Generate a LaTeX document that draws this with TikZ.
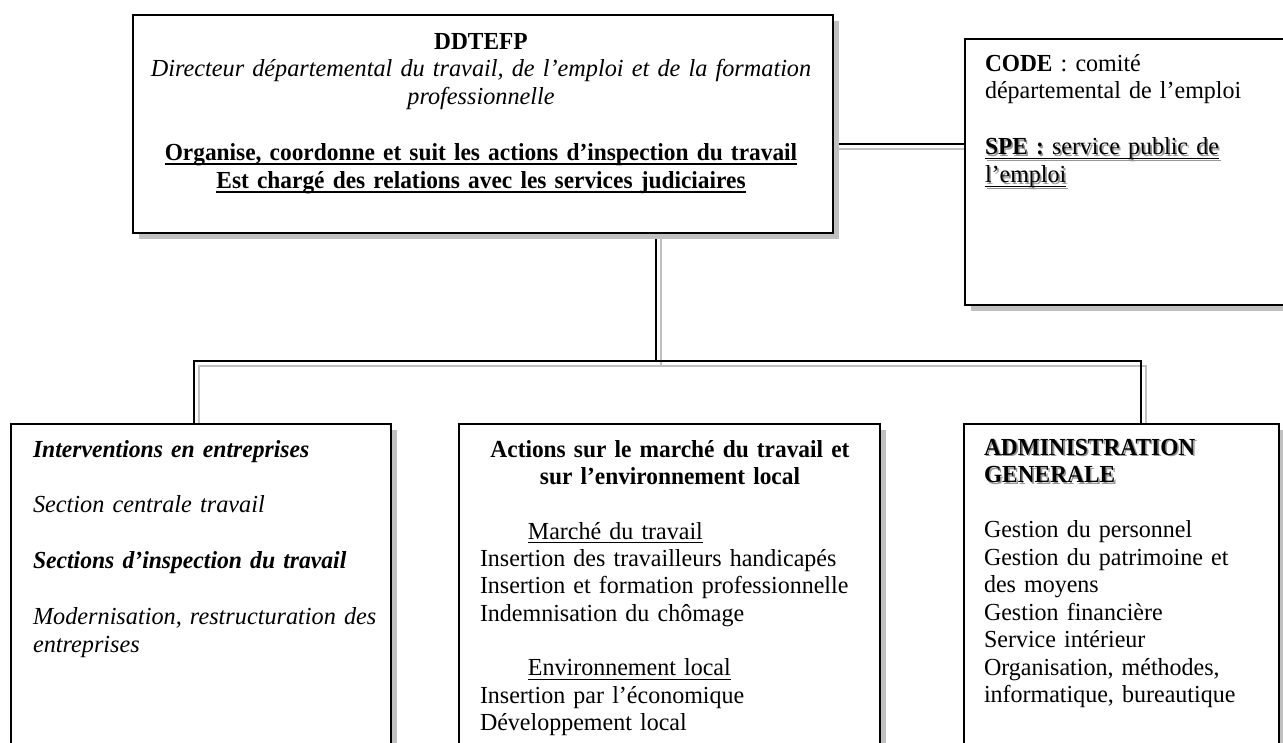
\documentclass[tikz,border=0pt]{standalone}
\usepackage{fontspec}
\setmainfont{Liberation Serif}[
  UprightFeatures={FakeStretch=0.98},
  ItalicFeatures={FakeStretch=0.99},
  BoldFeatures={FakeStretch=0.955},
  BoldItalicFeatures={FakeStretch=0.965}]
\usetikzlibrary{shadows,backgrounds}

\definecolor{shadowgray}{RGB}{192,192,192}
\definecolor{textshade}{RGB}{150,150,150}

% one drawing unit
\newcommand{\pxu}{0.49pt}
% underline with a chosen rule thickness
\newcommand{\uln}[2][0.5pt]{\leavevmode\setbox0=\hbox{#2}\rlap{\rule[-2pt]{\wd0}{#1}}\box0}
% thick underline for bold lines
\newcommand{\bul}[1]{\uln[0.95pt]{#1}}
% text with a soft grey offset copy behind it
\newcommand{\shd}[1]{\leavevmode\rlap{\kern0.8pt\raisebox{-0.8pt}{\color{textshade}#1}}#1}

\tikzset{
  box/.style={rectangle, draw=black, line width=0.9pt, fill=white, inner sep=0pt,
    drop shadow={shadow xshift=3.1pt, shadow yshift=-3.1pt, opacity=1, fill=shadowgray, draw=none}},
  link/.style={draw=black, line width=0.9pt},
  linkshade/.style={draw=shadowgray, line width=0.9pt,
    transform canvas={xshift=2.45pt, yshift=-2.45pt}},
  txt/.style={inner sep=0pt, outer sep=0pt, font=\fontsize{12}{13.7}\selectfont},
}

\begin{document}
\begin{tikzpicture}[x=0.49pt, y=-0.49pt]
\useasboundingbox (0,0) rectangle (1283,742);
\clip (0,0) rectangle (1283,742);

% boxes
\node[box, minimum width={700*\pxu}, minimum height={218*\pxu}] (top)   at (483,124) {};
\node[box, minimum width={335*\pxu}, minimum height={266*\pxu}] (code)  at (1132.5,172) {};
\node[box, minimum width={380*\pxu}, minimum height={346*\pxu}] (left)  at (201,597) {};
\node[box, minimum width={421*\pxu}, minimum height={346*\pxu}] (mid)   at (669.5,597) {};
\node[box, minimum width={315*\pxu}, minimum height={346*\pxu}] (right) at (1121.5,597) {};

% junction points of the connectors
\coordinate (cy)  at (900,144);
\coordinate (hub) at (656,361);
\coordinate (dl)  at (194,361);
\coordinate (dr)  at (1141,361);

\begin{pgfonlayer}{background}
  \draw[linkshade] (top.east |- cy) -- (code.west |- cy);
  \draw[linkshade] (top.south -| hub) -- (hub);
  \draw[linkshade] (left.north -| dl) -- (dl) -- (dr) -- (right.north -| dr);
  \draw[link] (top.east |- cy) -- (code.west |- cy);
  \draw[link] (top.south -| hub) -- (hub);
  \draw[link] (left.north -| dl) -- (dl) -- (dr) -- (right.north -| dr);
\end{pgfonlayer}

% texts
\node[txt, align=center, text width={690*\pxu}, anchor=base] (toptxt) at (481,49)
  {\textbf{DDTEFP}\\
   \textit{Directeur départemental du travail, de l’emploi et de la formation}\\
   \textit{professionnelle}\\[13.7pt]
   \bul{\textbf{Organise, coordonne et suit les actions d’inspection du travail}}\\
   \bul{\textbf{Est chargé des relations avec les services judiciaires}}};

\node[txt, align=left, text width={290*\pxu}, anchor=base west] (codetxt) at (985,71)
  {\textbf{CODE} : comité\\
   départemental de l’emploi\\[13.7pt]
   \shd{\uln{\textbf{SPE :} service public de}}\\
   \shd{\uln{l’emploi}}};

\node[txt, align=left, text width={355*\pxu}, anchor=base west] (lefttxt) at (33,457)
  {\textbf{\textit{Interventions en entreprises}}\\[13.7pt]
   \textit{Section centrale travail}\\[13.7pt]
   \textbf{\textit{Sections d’inspection du travail}}\\[13.7pt]
   \textit{Modernisation, restructuration des}\\
   \textit{entreprises}};

\node[txt, align=center, text width={400*\pxu}, anchor=base] (midhead) at (670,457)
  {\textbf{Actions sur le marché du travail et}\\
   \textbf{sur l’environnement local}};

\node[txt, align=left, text width={390*\pxu}, anchor=base west,
      font=\fontsize{12}{13.4}\selectfont] (midlist) at (480,539)
  {\hspace*{23.5pt}\uln{Marché du travail}\\
   Insertion des travailleurs handicapés\\
   Insertion et formation professionnelle\\
   Indemnisation du chômage\\[13.4pt]
   \hspace*{23.5pt}\uln{Environnement local}\\
   Insertion par l’économique\\
   Développement local};

\node[txt, align=left, text width={290*\pxu}, anchor=base west,
      font=\fontsize{12}{13.5}\selectfont] (righttxt) at (984,455)
  {\shd{\textbf{ADMINISTRATION}}\\
   \shd{\textbf{GENERALE}}\\[13.5pt]
   Gestion du personnel\\
   Gestion du patrimoine et\\
   des moyens\\
   Gestion financière\\
   Service intérieur\\
   Organisation, méthodes,\\
   informatique, bureautique};
\end{tikzpicture}
\end{document}
